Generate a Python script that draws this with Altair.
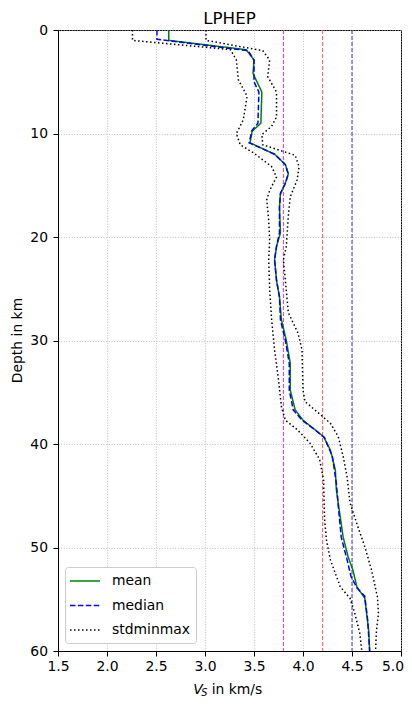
import altair as alt
import pandas as pd

# ---- data ----
mean_depth = [0.0, 1.0, 1.9, 2.9, 4.2, 6.0, 9.0, 9.8, 10.9, 12.0, 13.0, 13.9, 14.8, 15.8, 17.1, 19.6,
              20.9, 22.2, 24.2, 25.8, 28.0, 30.0, 32.2, 34.8, 36.7, 37.7, 38.6, 39.3, 40.6, 42.5,
              44.4, 46.4, 49.0, 50.9, 52.2, 53.8, 54.9, 58.0, 60.0]
mean_vs = [2.63, 2.63, 3.42, 3.50, 3.49, 3.58, 3.57, 3.48, 3.46, 3.71, 3.82, 3.85, 3.82, 3.77, 3.76, 3.77,
           3.73, 3.71, 3.73, 3.76, 3.78, 3.83, 3.87, 3.87, 3.92, 4.00, 4.12, 4.21, 4.28, 4.33,
           4.34, 4.37, 4.41, 4.46, 4.51, 4.55, 4.63, 4.67, 4.68]

median_depth = [0.0, 0.9, 2.0, 2.9, 5.0, 6.0, 9.0, 9.7, 10.9, 12.0, 13.0, 13.9, 14.8, 15.8, 17.1, 19.6,
                20.9, 22.2, 24.2, 25.8, 28.0, 30.0, 32.2, 34.8, 36.7, 37.7, 38.6, 39.4, 41.2, 43.8,
                46.0, 49.0, 51.2, 52.8, 53.9, 54.7, 57.0, 60.0]
median_vs = [2.51, 2.51, 3.44, 3.50, 3.50, 3.55, 3.54, 3.48, 3.45, 3.71, 3.82, 3.85, 3.82, 3.77, 3.76, 3.76,
             3.73, 3.71, 3.73, 3.76, 3.77, 3.82, 3.86, 3.86, 3.90, 3.99, 4.12, 4.22, 4.30, 4.34,
             4.36, 4.39, 4.45, 4.49, 4.55, 4.63, 4.66, 4.68]

std_low_depth = [0.0, 1.0, 1.9, 2.9, 4.8, 6.4, 8.7, 10.0, 11.1, 11.9, 13.2, 14.2, 15.5, 16.4, 18.4, 20.3,
                 22.2, 25.1, 28.0, 30.9, 33.8, 36.4, 37.7, 38.6, 39.9, 41.5, 43.5, 47.3, 49.3, 51.2,
                 53.8, 54.9, 56.4, 58.3, 60.0]
std_low_vs = [2.26, 2.26, 3.26, 3.32, 3.34, 3.43, 3.39, 3.32, 3.36, 3.50, 3.68, 3.73, 3.66, 3.63, 3.65, 3.66,
              3.65, 3.66, 3.68, 3.71, 3.75, 3.78, 3.82, 3.94, 4.07, 4.17, 4.21, 4.22, 4.24, 4.28,
              4.38, 4.48, 4.53, 4.58, 4.60]

std_high_depth = [0.0, 1.0, 2.0, 2.9, 4.5, 6.0, 8.4, 9.3, 10.1, 11.1, 12.1, 13.2, 14.5, 16.1, 18.0, 20.9,
                  22.2, 24.2, 27.3, 29.3, 30.9, 34.8, 35.9, 36.7, 38.0, 39.3, 41.2, 43.2, 45.7, 48.0,
                  49.9, 52.2, 54.8, 56.4, 58.0, 60.0]
std_high_vs = [3.01, 3.01, 3.59, 3.66, 3.64, 3.73, 3.73, 3.68, 3.58, 3.59, 3.92, 3.96, 3.94, 3.87, 3.85, 3.83,
               3.80, 3.82, 3.85, 3.95, 3.99, 4.00, 4.02, 4.12, 4.28, 4.36, 4.41, 4.45, 4.48, 4.56,
               4.63, 4.70, 4.76, 4.77, 4.75, 4.74]

ref_vs = [3.8, 4.2, 4.5]
ref_colors = ["#e033e0", "#ff5a5a", "#3a3aa8"]

series_names = ["mean", "median", "stdminmax"]
series_colors = ["#008000", "#0000ff", "#000000"]
series_dashes = [[1, 0], [5.5, 2.4], [1.5, 2.5]]

x_ticks = [1.5, 2.0, 2.5, 3.0, 3.5, 4.0, 4.5, 5.0]
y_ticks = [0, 10, 20, 30, 40, 50, 60]

FONT = "DejaVu Sans"
W, H = 343, 621

# ---- build table ----
rows = []
for name, line_id, ds, vs in [("mean", "mean", mean_depth, mean_vs),
                              ("median", "median", median_depth, median_vs),
                              ("stdminmax", "low", std_low_depth, std_low_vs),
                              ("stdminmax", "high", std_high_depth, std_high_vs)]:
    for d, v in zip(ds, vs):
        rows.append({"series": name, "line": line_id, "depth": d, "vs": v})
df = pd.DataFrame(rows)

x_scale = alt.Scale(domain=[1.5, 5.0], nice=False, zero=False)
y_scale = alt.Scale(domain=[0, 60], nice=False, zero=False, reverse=True)

x_axis = alt.Axis(values=x_ticks, format=".1f", title=None, grid=True,
                  gridColor="#b0b0b0", gridDash=[1, 1.65], gridWidth=0.8,
                  tickSize=5, tickColor="black", domainColor="black",
                  labelFontSize=13.9, labelFont=FONT, labelColor="black",
                  labelPadding=3.5, labelFlush=False,
                  labelAlign={"condition": {"test": "datum.value >= 5", "value": "right"},
                              "value": "center"},
                  labelOffset={"condition": {"test": "datum.value >= 5", "value": 2.5},
                               "value": 0})
y_axis = alt.Axis(values=y_ticks, format="d", title=None, grid=True,
                  gridColor="#b0b0b0", gridDash=[1, 1.65], gridWidth=0.8,
                  tickSize=5, tickColor="black", domainColor="black",
                  labelFontSize=13.9, labelFont=FONT, labelColor="black",
                  labelPadding=5.5, labelFlush=False)

# reference vertical lines
rule_layers = []
for v, c in zip(ref_vs, ref_colors):
    rule_layers.append(
        alt.Chart(pd.DataFrame({"vs": [v]}))
        .mark_rule(color=c, strokeWidth=1, strokeDash=[4, 2])
        .encode(x=alt.X("vs:Q", scale=x_scale, axis=x_axis))
    )

leg = alt.Legend(title=None, orient="none", legendX=7, legendY=537)

lines = (
    alt.Chart(df)
    .mark_line(strokeWidth=1.5, clip=True)
    .encode(
        x=alt.X("vs:Q", scale=x_scale, axis=x_axis),
        y=alt.Y("depth:Q", scale=y_scale, axis=y_axis),
        detail="line:N",
        order="depth:Q",
        color=alt.Color("series:N",
                        scale=alt.Scale(domain=series_names, range=series_colors),
                        legend=leg),
        strokeDash=alt.StrokeDash("series:N",
                                  scale=alt.Scale(domain=series_names, range=series_dashes),
                                  legend=leg),
    )
)

def label(text, x, y, size=13.9, angle=0, style="normal", align="left"):
    return (
        alt.Chart(pd.DataFrame({"t": [text]}))
        .mark_text(font=FONT, fontSize=size, fontStyle=style, align=align,
                   baseline="alphabetic", angle=angle, color="black")
        .encode(text="t:N", x=alt.value(x), y=alt.value(y))
    )

texts = [
    label("LPHEP", W / 2, -6.5, size=16.7, align="center"),
    label("V", 135.3, 663.5, style="italic"),
    label("S", 143.3, 666, size=9.7, style="italic"),
    label("in km/s", 153.7, 663.5),
    label("Depth in km", -36, H / 2, angle=270, align="center"),
]

chart = (
    alt.layer(*rule_layers, lines, *texts)
    .properties(width=W, height=H,
                padding={"left": 50, "top": 22, "right": 3, "bottom": 46},
                autosize=alt.AutoSizeParams(type="none"))
    .configure_view(stroke="black", strokeWidth=1)
    .configure_legend(symbolType="M-1.286,0H3", symbolSize=196, symbolStrokeWidth=1.5,
                      labelFontSize=13.9, labelFont=FONT, labelColor="black",
                      padding=6, rowPadding=9.5, labelOffset=25,
                      fillColor="white", strokeColor="#cccccc", cornerRadius=3)
)

chart.save("out.html", embed_options={"renderer": "svg", "actions": False})
